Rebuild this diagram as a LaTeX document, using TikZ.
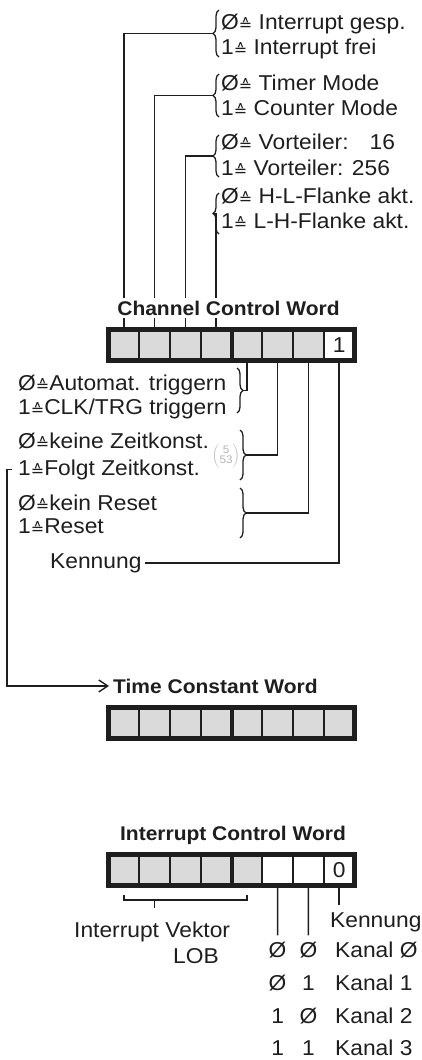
\documentclass[tikz,border=0pt]{standalone}
\usepackage{fontspec}
\setmainfont[FakeStretch=1.06]{Liberation Sans}
\newfontfamily\symfont{DejaVu Sans}
\usetikzlibrary{arrows.meta,decorations.pathreplacing}
\definecolor{ink}{HTML}{1E1E1E}
\definecolor{cellgrey}{HTML}{DADADA}
\definecolor{pencil}{HTML}{B4B4B4}
\newcommand{\lbl}{\fontsize{21.5}{24}\selectfont}
\newcommand{\hdr}{\fontsize{19.8}{22}\selectfont\bfseries}
\newcommand{\scrib}{\fontsize{11}{11}\selectfont}
\newcommand{\corr}{\raisebox{-1.5pt}{\symfont\fontsize{16}{16}\selectfont ≙}}

\begin{document}
\begin{tikzpicture}[x=1pt,y=-1pt,
  cell/.style={draw=ink,line width=2pt,fill=cellgrey,minimum width=30.75pt,minimum height=31pt,inner sep=0,font=\lbl,text=ink},
  regframe/.style={draw=ink,line width=5pt},
  wire/.style={draw=ink,line width=1.6pt},
  lab/.style={anchor=base west,inner sep=0,text=ink,font=\lbl},
  ttl/.style={inner sep=0,text=ink,font=\hdr},
  brc/.style={draw=ink,line width=1.3pt,decorate,decoration={brace,amplitude=6pt}}]
\useasboundingbox (0,0) rectangle (421,1060);
% channel control word
\foreach \i in {1,...,7} \node[cell] (c\i) at (93.125+30.75*\i,345) {};
\node[cell,fill=white] (c8) at (339.125,345) {1};
\draw[regframe] (108.5,329.5) rectangle (354.5,360.5);
\draw[regframe,line width=4pt] (231.5,329.5) -- (231.5,360.5);
% upper bits
\node[lab] (gsp0) at (221,29) {Ø\corr{} Interrupt gesp.};
\node[lab] (gsp1) at (221,54) {1\corr{} Interrupt frei};
\node[lab] (mode0) at (221,90) {Ø\corr{} Timer Mode};
\node[lab] (mode1) at (221,115) {1\corr{} Counter Mode};
\node[lab] (vort0) at (221,149) {Ø\corr{} Vorteiler: \hphantom{2}16};
\node[lab] (vort1) at (221,175) {1\corr{} Vorteiler: 256};
\node[lab] (flk0) at (221,203) {Ø\corr{} H-L-Flanke akt.};
\node[lab] (flk1) at (221,228) {1\corr{} L-H-Flanke akt.};
\draw[brc] (219,57) -- (219,10);
\draw[brc] (219,117) -- (219,74);
\draw[brc] (219,177) -- (219,135);
\draw[brc] (219,234) -- (219,193);
\coordinate (gsptip) at (213,33.5);
\coordinate (modetip) at (213,95.5);
\coordinate (vorttip) at (213,156);
\coordinate (flktip) at (213,213.5);
\draw[wire] (c1.north) |- (gsptip);
\draw[wire] (c2.north) |- (modetip);
\draw[wire] (c3.north) |- (vorttip);
\draw[wire] (c4.north) |- (flktip);
\node[ttl,fill=white,inner ysep=3pt,anchor=base] (ccwt) at (228.5,315) {Channel Control Word};
% lower bits
\node[lab] (trig0) at (18,390) {Ø\corr Automat. triggern};
\node[lab] (trig1) at (18,414) {1\corr CLK/TRG triggern};
\node[lab] (zeit0) at (18,448) {Ø\corr keine Zeitkonst.};
\node[lab] (zeit1) at (18,475) {1\corr Folgt Zeitkonst.};
\node[lab] (rst0) at (18,510) {Ø\corr kein Reset};
\node[lab] (rst1) at (18,533) {1\corr Reset};
\node[lab] (kenn) at (50,568) {Kennung};
\node[text=pencil,inner sep=0] (memo) at (226,456) {$\left(\begin{tabular}{@{}c@{}}\scrib 5\\[-2pt]\scrib 53\end{tabular}\right)$};
\draw[brc] (237,368) -- (237,413);
\draw[brc] (240,430) -- (240,480);
\draw[brc] (240,488) -- (240,538);
\coordinate (trigtip) at (243,390.5);
\coordinate (zeittip) at (246,455);
\coordinate (rsttip) at (246,513);
\draw[wire] (c5.south) |- (trigtip);
\draw[wire] (c6.south) |- (zeittip);
\draw[wire] (c7.south) |- (rsttip);
\draw[wire,shorten >=3pt] (c8.south) |- (kenn.east);
% time constant word
\node[ttl,anchor=base west] (tcwt) at (113,693) {Time Constant Word};
\draw[wire,line width=1.4pt,shorten <=6pt,shorten >=4pt,-{Straight Barb[length=9pt,width=12pt]}] (zeit1.west) -- ++(-11,0) |- (tcwt.west);
\foreach \i in {1,...,8} \node[cell] (t\i) at (93.125+30.75*\i,723) {};
\draw[regframe] (108.5,707.5) rectangle (354.5,738.5);
\draw[regframe,line width=4pt] (231.5,707.5) -- (231.5,738.5);
% interrupt control word
\node[ttl,anchor=base] (icwt) at (233,840) {Interrupt Control Word};
\foreach \i in {1,...,5} \node[cell] (i\i) at (93.125+30.75*\i,870) {};
\foreach \i in {6,7} \node[cell,fill=white] (i\i) at (93.125+30.75*\i,870) {};
\node[cell,fill=white] (i8) at (339.125,870) {0};
\draw[regframe] (108.5,854.5) rectangle (354.5,885.5);
\draw[regframe,line width=4pt] (231.5,854.5) -- (231.5,885.5);
\draw[wire] ([yshift=-8.5pt]i1.south) -- ([yshift=-13.5pt]i1.south) -- ([yshift=-13.5pt]i5.south) -- ([yshift=-8.5pt]i5.south);
\draw[wire] ([yshift=-13.5pt]i2.south) -- ([yshift=-21.5pt]i2.south);
\node[lab] (vek) at (74,937) {Interrupt Vektor};
\node[lab] (lob) at (173,963) {LOB};
\node[lab] (kenn2) at (330,927) {Kennung};
\draw[wire,shorten >=7pt] (i8.south) -- (i8.south |- kenn2.north);
\node[lab,anchor=base] (k0a) at (277.6,957) {Ø};
\node[lab,anchor=base] (k0b) at (308.4,957) {Ø};
\node[lab] (k0) at (335,957) {Kanal Ø};
\node[lab,anchor=base] (k1a) at (277.6,990) {Ø};
\node[lab,anchor=base] (k1b) at (308.4,990) {1};
\node[lab] (k1) at (335,990) {Kanal 1};
\node[lab,anchor=base] (k2a) at (277.6,1023) {1};
\node[lab,anchor=base] (k2b) at (308.4,1023) {Ø};
\node[lab] (k2) at (335,1023) {Kanal 2};
\node[lab,anchor=base] (k3a) at (277.6,1055) {1};
\node[lab,anchor=base] (k3b) at (308.4,1055) {1};
\node[lab] (k3) at (335,1055) {Kanal 3};
\draw[wire,shorten >=6pt] (i6.south) -- (k0a.north);
\draw[wire,shorten >=6pt] (i7.south) -- (k0b.north);
\end{tikzpicture}
\end{document}
